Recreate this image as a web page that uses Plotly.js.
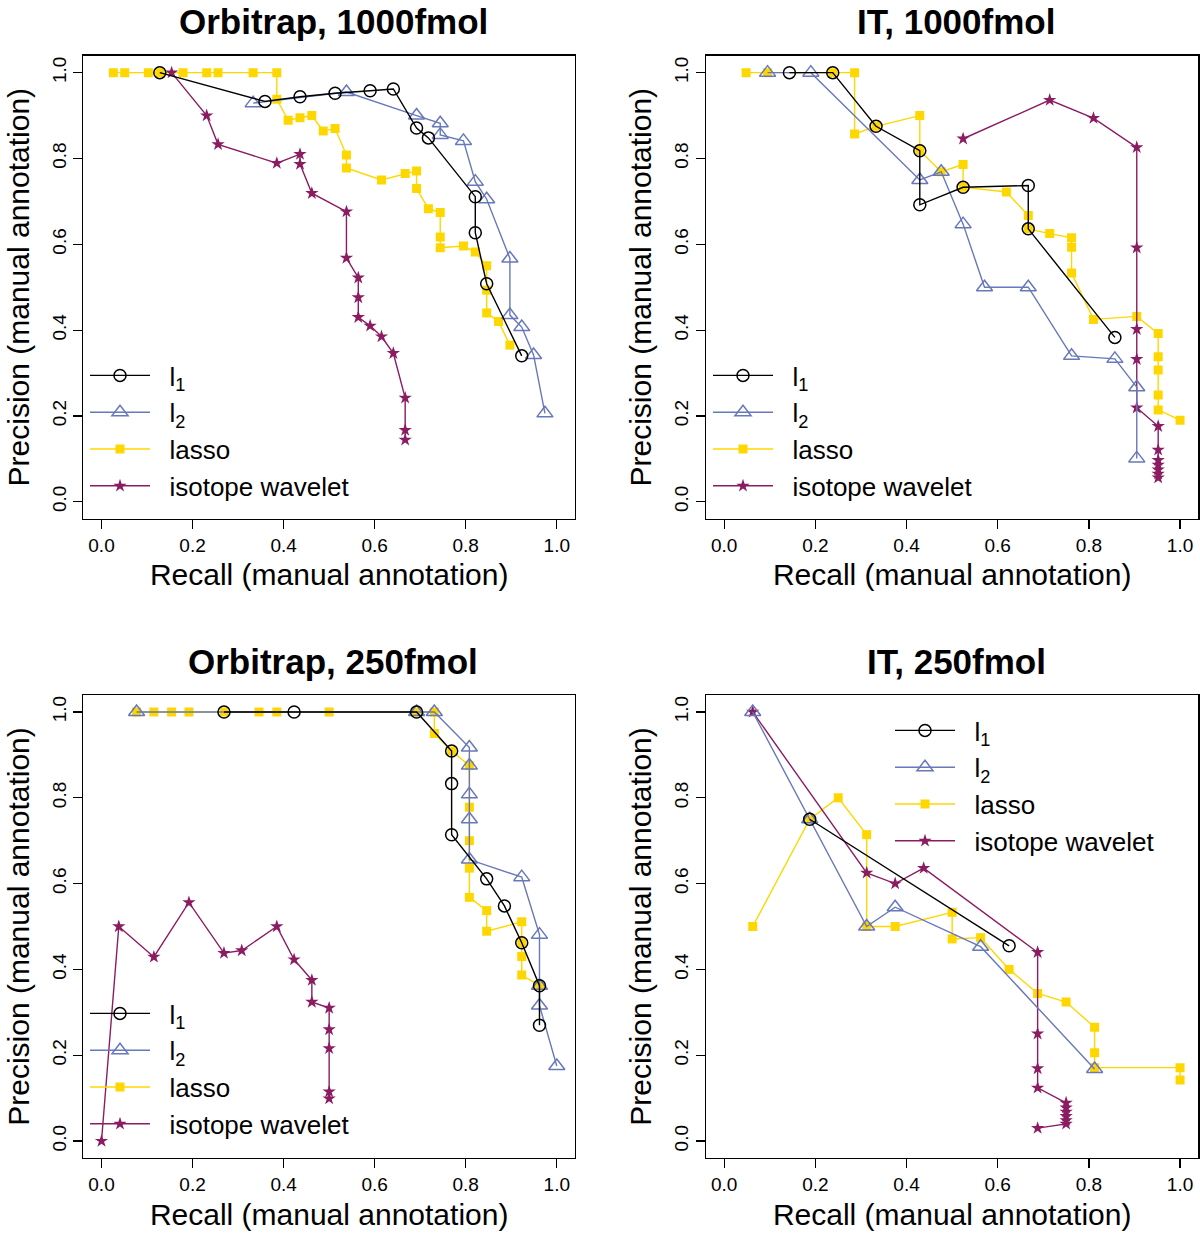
<!DOCTYPE html>
<html>
<head>
<meta charset="utf-8">
<script src="https://cdn.plot.ly/plotly-3.0.1.min.js"></script>
<style>html,body{margin:0;padding:0;background:#fff}#chart{width:1200px;height:1238px}</style>
</head>
<body>
<div id="chart"></div>
<script>
// ---------- Data (recall x, precision y) ----------
// Orbitrap, 1000fmol
const orb1000_l1_x = [0.128, 0.359, 0.436, 0.513, 0.590, 0.641, 0.692, 0.718, 0.821, 0.821, 0.846, 0.923];
const orb1000_l1_y = [1.0, 0.933, 0.944, 0.952, 0.958, 0.962, 0.871, 0.848, 0.711, 0.627, 0.508, 0.340];
const orb1000_l2_x = [0.333, 0.538, 0.692, 0.744, 0.744, 0.795, 0.821, 0.846, 0.897, 0.897, 0.923, 0.949, 0.974];
const orb1000_l2_y = [0.929, 0.955, 0.900, 0.882, 0.855, 0.841, 0.746, 0.705, 0.567, 0.435, 0.407, 0.342, 0.206];
const orb1000_lasso_x = [0.026, 0.051, 0.103, 0.128, 0.179, 0.231, 0.256, 0.333, 0.385, 0.385, 0.410, 0.436, 0.462, 0.487, 0.513, 0.538, 0.538, 0.615, 0.667, 0.692, 0.692, 0.718, 0.744, 0.744, 0.744, 0.795, 0.821, 0.846, 0.846, 0.846, 0.872, 0.897];
const orb1000_lasso_y = [1, 1, 1, 1, 1, 1, 1, 1, 1, 0.938, 0.889, 0.895, 0.900, 0.864, 0.870, 0.808, 0.778, 0.750, 0.765, 0.771, 0.730, 0.683, 0.674, 0.617, 0.592, 0.596, 0.582, 0.550, 0.493, 0.440, 0.420, 0.365];
const orb1000_iso_x = [0.154, 0.231, 0.256, 0.385, 0.436, 0.436, 0.462, 0.538, 0.538, 0.564, 0.564, 0.564, 0.590, 0.615, 0.641, 0.667, 0.667, 0.667];
const orb1000_iso_y = [1.0, 0.900, 0.833, 0.789, 0.810, 0.787, 0.719, 0.676, 0.568, 0.522, 0.476, 0.430, 0.410, 0.385, 0.346, 0.242, 0.167, 0.144];

// IT, 1000fmol
const it1000_l1_x = [0.143, 0.238, 0.333, 0.429, 0.429, 0.524, 0.667, 0.667, 0.857];
const it1000_l1_y = [1.0, 1.0, 0.875, 0.818, 0.692, 0.733, 0.737, 0.636, 0.383];
const it1000_l2_x = [0.095, 0.190, 0.429, 0.476, 0.524, 0.571, 0.667, 0.762, 0.857, 0.905, 0.905];
const it1000_l2_y = [1.0, 1.0, 0.750, 0.769, 0.647, 0.500, 0.500, 0.340, 0.333, 0.267, 0.101];
const it1000_lasso_x = [0.048, 0.095, 0.238, 0.286, 0.286, 0.333, 0.429, 0.429, 0.476, 0.524, 0.524, 0.619, 0.667, 0.667, 0.714, 0.762, 0.762, 0.762, 0.810, 0.905, 0.952, 0.952, 0.952, 0.952, 0.952, 1.0];
const it1000_lasso_y = [1, 1, 1, 1, 0.857, 0.875, 0.900, 0.818, 0.769, 0.786, 0.733, 0.722, 0.667, 0.636, 0.625, 0.615, 0.593, 0.533, 0.425, 0.432, 0.392, 0.338, 0.307, 0.249, 0.214, 0.190];
const it1000_iso_x = [0.524, 0.714, 0.810, 0.905, 0.905, 0.905, 0.905, 0.905, 0.952, 0.952, 0.952, 0.952, 0.952, 0.952, 0.952];
const it1000_iso_y = [0.846, 0.936, 0.894, 0.826, 0.592, 0.402, 0.332, 0.219, 0.176, 0.121, 0.097, 0.086, 0.075, 0.065, 0.056];

// Orbitrap, 250fmol
const orb250_l1_x = [0.269, 0.423, 0.692, 0.769, 0.769, 0.769, 0.846, 0.885, 0.923, 0.962, 0.962];
const orb250_l1_y = [1, 1, 1, 0.909, 0.833, 0.714, 0.611, 0.548, 0.462, 0.362, 0.270];
const orb250_l2_x = [0.077, 0.692, 0.731, 0.808, 0.808, 0.808, 0.808, 0.808, 0.923, 0.962, 0.962, 0.962, 1.0];
const orb250_l2_y = [1, 1, 1, 0.917, 0.875, 0.808, 0.750, 0.656, 0.615, 0.481, 0.362, 0.316, 0.175];
const orb250_lasso_x = [0.077, 0.115, 0.154, 0.192, 0.269, 0.346, 0.385, 0.500, 0.692, 0.731, 0.731, 0.769, 0.808, 0.808, 0.808, 0.808, 0.808, 0.846, 0.846, 0.923, 0.923, 0.923, 0.923, 0.962];
const orb250_lasso_y = [1, 1, 1, 1, 1, 1, 1, 1, 1, 1, 0.950, 0.909, 0.875, 0.778, 0.700, 0.636, 0.568, 0.537, 0.489, 0.511, 0.462, 0.430, 0.387, 0.362];
const orb250_iso_x = [0.0, 0.038, 0.115, 0.192, 0.269, 0.308, 0.385, 0.423, 0.462, 0.462, 0.500, 0.500, 0.500, 0.500, 0.500];
const orb250_iso_y = [0.0, 0.500, 0.429, 0.556, 0.438, 0.444, 0.500, 0.423, 0.375, 0.324, 0.310, 0.260, 0.216, 0.115, 0.099];

// IT, 250fmol
const it250_l1_x = [0.1875, 0.625];
const it250_l1_y = [0.75, 0.455];
const it250_l2_x = [0.0625, 0.1875, 0.3125, 0.375, 0.5625, 0.8125];
const it250_l2_y = [1.0, 0.75, 0.5, 0.545, 0.453, 0.168];
const it250_lasso_x = [0.0625, 0.1875, 0.25, 0.3125, 0.3125, 0.375, 0.5, 0.5, 0.5625, 0.625, 0.6875, 0.75, 0.8125, 0.8125, 0.8125, 1.0, 1.0];
const it250_lasso_y = [0.5, 0.75, 0.8, 0.714, 0.5, 0.5, 0.533, 0.471, 0.474, 0.4, 0.344, 0.324, 0.265, 0.206, 0.171, 0.171, 0.142];
const it250_iso_x = [0.0625, 0.3125, 0.375, 0.4375, 0.6875, 0.6875, 0.6875, 0.6875, 0.75, 0.75, 0.75, 0.75, 0.75, 0.75, 0.6875];
const it250_iso_y = [1.0, 0.625, 0.6, 0.636, 0.44, 0.25, 0.169, 0.124, 0.089, 0.078, 0.068, 0.058, 0.048, 0.040, 0.030];

const panelTitles = ['Orbitrap, 1000fmol', 'IT, 1000fmol', 'Orbitrap, 250fmol', 'IT, 250fmol'];
const seriesNames = ['l<sub>1</sub>', 'l<sub>2</sub>', 'lasso', 'isotope wavelet'];
const tickVals = [0, 0.2, 0.4, 0.6, 0.8, 1.0];
const tickText = ['0.0', '0.2', '0.4', '0.6', '0.8', '1.0'];
const xTitle = 'Recall (manual annotation)';
const yTitle = 'Precision (manual annotation)';

// ---------- Styling ----------
const FONT = 'Liberation Sans, Arial, Helvetica, sans-serif';
const COL = {l1: '#000000', l2: '#6878BA', lasso: '#FFD700', iso: '#8B1C62'};
const GAP = '&nbsp;&nbsp;';

const panels = [
  {data: [orb1000_l1_x, orb1000_l1_y, orb1000_l2_x, orb1000_l2_y, orb1000_lasso_x, orb1000_lasso_y, orb1000_iso_x, orb1000_iso_y], xa: 'x', ya: 'y', lg: 'legend'},
  {data: [it1000_l1_x, it1000_l1_y, it1000_l2_x, it1000_l2_y, it1000_lasso_x, it1000_lasso_y, it1000_iso_x, it1000_iso_y], xa: 'x2', ya: 'y2', lg: 'legend2'},
  {data: [orb250_l1_x, orb250_l1_y, orb250_l2_x, orb250_l2_y, orb250_lasso_x, orb250_lasso_y, orb250_iso_x, orb250_iso_y], xa: 'x3', ya: 'y3', lg: 'legend3'},
  {data: [it250_l1_x, it250_l1_y, it250_l2_x, it250_l2_y, it250_lasso_x, it250_lasso_y, it250_iso_x, it250_iso_y], xa: 'x4', ya: 'y4', lg: 'legend4'}
];

const traces = [];
panels.forEach(p => {
  const d = p.data;
  const common = {type: 'scatter', mode: 'lines+markers', xaxis: p.xa, yaxis: p.ya, legend: p.lg, showlegend: true, hoverinfo: 'x+y'};
  // drawing order: lasso, isotope, l2, l1 (legend order set by legendrank)
  traces.push(Object.assign({}, common, {name: GAP + seriesNames[2], legendrank: 3, x: d[4], y: d[5],
    line: {color: COL.lasso, width: 1.4}, marker: {symbol: 'square', size: 9, color: COL.lasso}}));
  traces.push(Object.assign({}, common, {name: GAP + seriesNames[3], legendrank: 4, x: d[6], y: d[7],
    line: {color: COL.iso, width: 1.4}, marker: {symbol: 'star', size: 10, color: COL.iso}}));
  traces.push(Object.assign({}, common, {name: GAP + seriesNames[1], legendrank: 2, x: d[2], y: d[3],
    line: {color: COL.l2, width: 1.4}, marker: {symbol: 'triangle-up-open', size: 14, color: COL.l2, line: {width: 1.5, color: COL.l2}}}));
  traces.push(Object.assign({}, common, {name: GAP + seriesNames[0], legendrank: 1, x: d[0], y: d[1],
    line: {color: COL.l1, width: 1.4}, marker: {symbol: 'circle-open', size: 12, color: COL.l1, line: {width: 1.5, color: COL.l1}}}));
});

const xL = [83.3 / 1200, 575 / 1200], xR = [706 / 1200, 1198.3 / 1200];
const yT = [1 - 518.9 / 1238, 1 - 55.5 / 1238], yB = [1 - 1158.2 / 1238, 1 - 694.8 / 1238];

function xAxis(domain, anchor) {
  return {domain: domain, anchor: anchor, range: [-0.04, 1.04], tickvals: tickVals, ticktext: tickText,
    ticks: 'outside', ticklen: 9, tickwidth: 1.2, tickcolor: '#000', showline: true, mirror: true,
    linecolor: '#000', linewidth: 1.2, showgrid: false, zeroline: false,
    tickfont: {family: FONT, size: 19, color: '#000'},
    title: {text: xTitle, font: {family: FONT, size: 30, color: '#000'}, standoff: 9}};
}
function yAxis(domain, anchor) {
  return {domain: domain, anchor: anchor, range: [-0.04, 1.04], tickvals: tickVals, ticktext: tickText,
    ticks: 'outside', ticklen: 9, tickwidth: 1.2, tickcolor: '#000', showline: true, mirror: true,
    linecolor: '#000', linewidth: 1.2, showgrid: false, zeroline: false, tickangle: -90,
    tickfont: {family: FONT, size: 19, color: '#000'},
    title: {text: yTitle, font: {family: FONT, size: 30, color: '#000'}, standoff: 10}};
}
function legendAt(x, y) {
  return {x: x, y: y, xanchor: 'left', yanchor: 'top', bgcolor: 'rgba(0,0,0,0)', borderwidth: 0,
    font: {family: FONT, size: 26, color: '#000'}, traceorder: 'normal', tracegroupgap: 0, itemwidth: 60};
}

const titleRows = [
  {dom: xL, y: 1, anchor: 'top'}, {dom: xR, y: 1, anchor: 'top'},
  {dom: xL, y: 1 - 661 / 1238, anchor: 'middle'}, {dom: xR, y: 1 - 661 / 1238, anchor: 'middle'}
];
const annotations = titleRows.map((a, i) => ({text: '<b>' + panelTitles[i] + '</b>', xref: 'paper', yref: 'paper',
  x: (a.dom[0] + a.dom[1]) / 2 + 4 / 1200, y: a.y, xanchor: 'center', yanchor: a.anchor, showarrow: false,
  font: {family: FONT, size: 35, color: '#000'}}));

const layout = {
  width: 1200, height: 1238, margin: {l: 0, r: 0, t: 0, b: 0},
  paper_bgcolor: '#fff', plot_bgcolor: '#fff', font: {family: FONT, color: '#000'},
  xaxis: xAxis(xL, 'y'), yaxis: yAxis(yT, 'x'),
  xaxis2: xAxis(xR, 'y2'), yaxis2: yAxis(yT, 'x2'),
  xaxis3: xAxis(xL, 'y3'), yaxis3: yAxis(yB, 'x3'),
  xaxis4: xAxis(xR, 'y4'), yaxis4: yAxis(yB, 'x4'),
  legend: legendAt(85 / 1200, 1 - 352 / 1238),
  legend2: legendAt(708 / 1200, 1 - 352 / 1238),
  legend3: legendAt(85 / 1200, 1 - 990 / 1238),
  legend4: legendAt(890 / 1200, 1 - 707 / 1238),
  annotations: annotations,
  showlegend: true
};

Plotly.newPlot('chart', traces, layout, {staticPlot: true, displayModeBar: false});
</script>
</body>
</html>
